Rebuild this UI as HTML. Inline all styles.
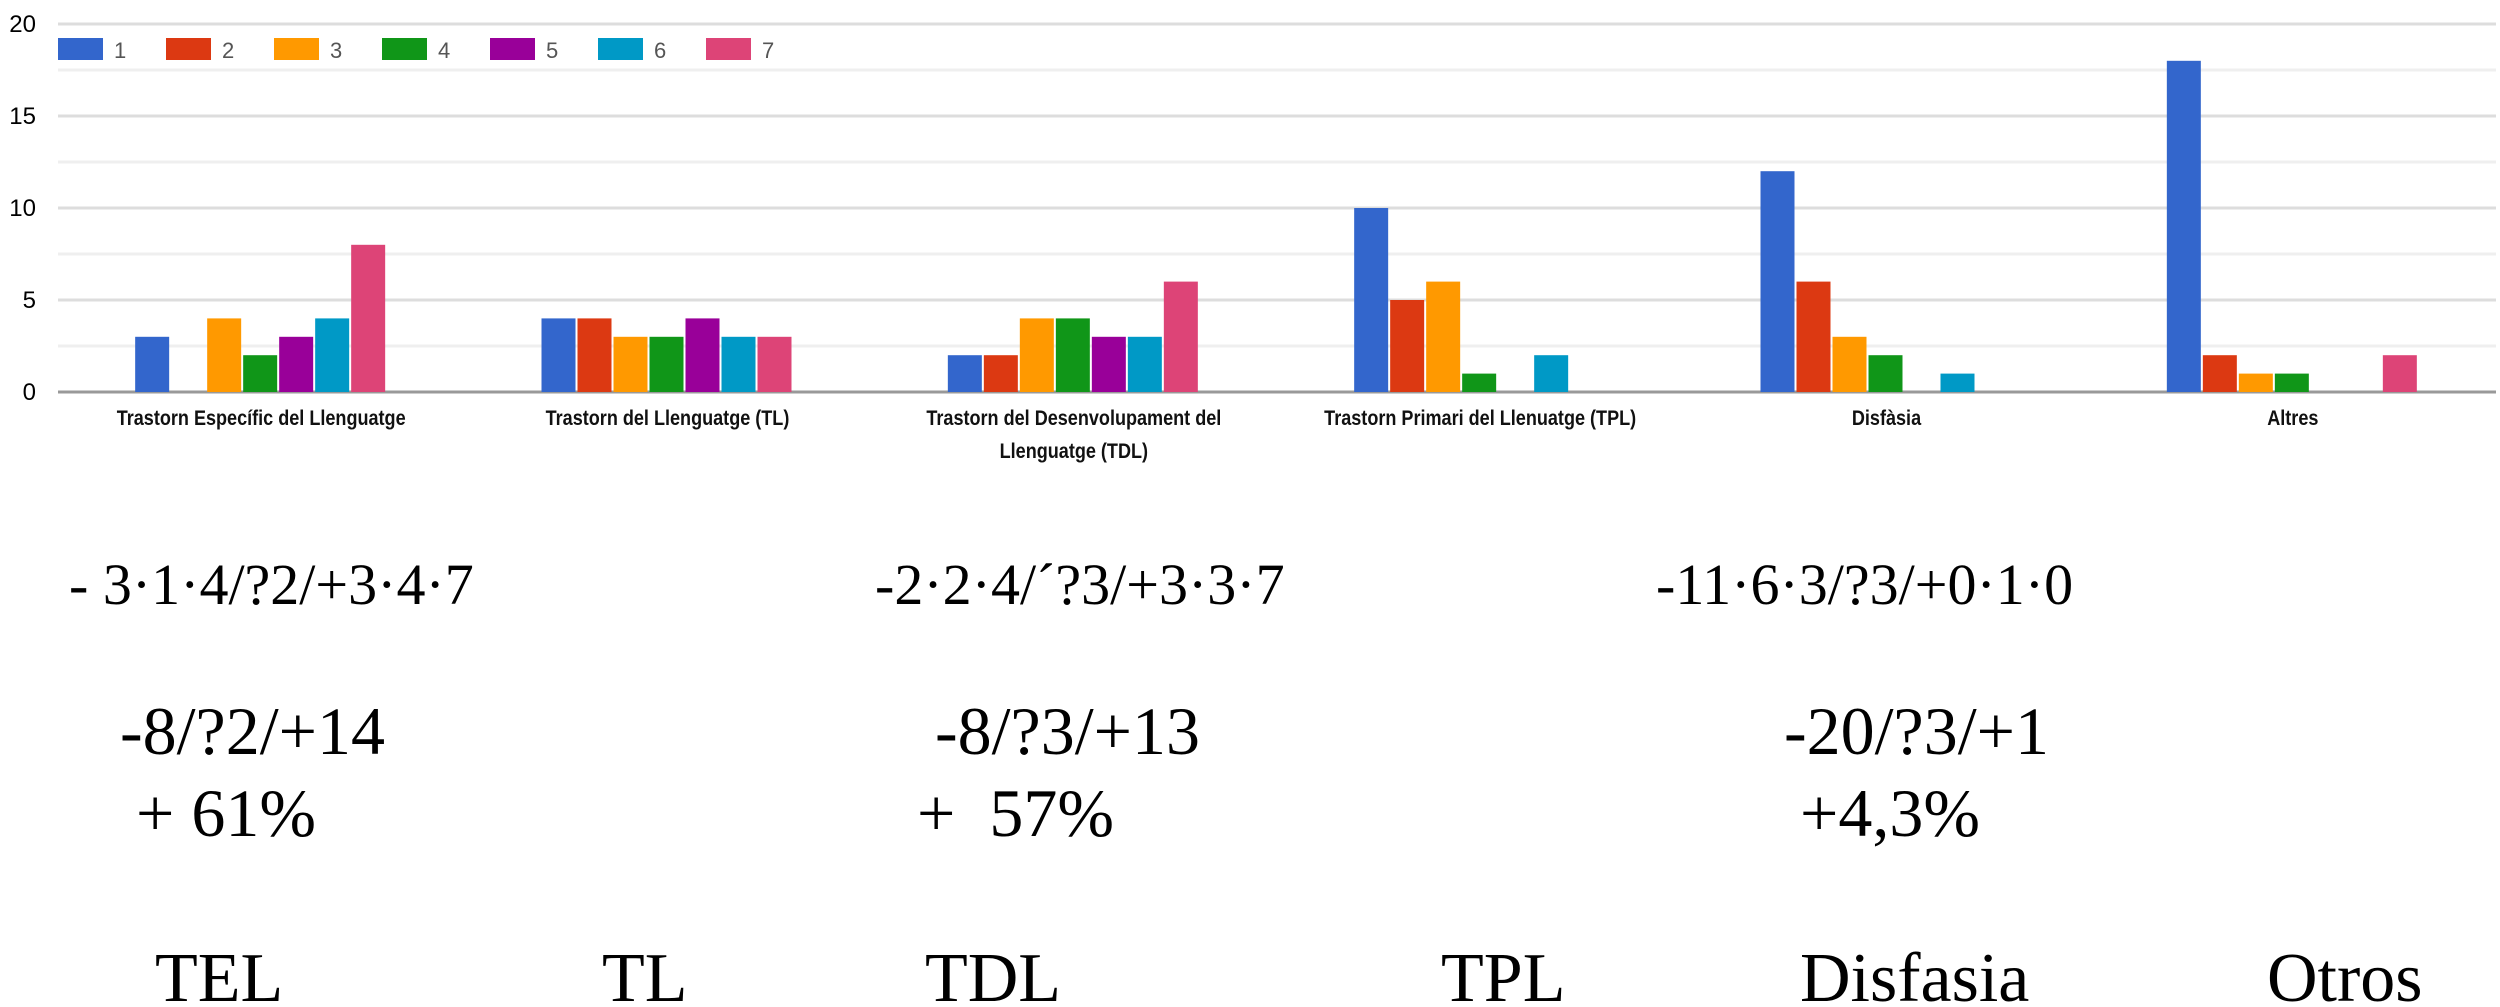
<!DOCTYPE html>
<html><head><meta charset="utf-8"><style>
html,body{margin:0;padding:0;background:#fff;}
svg{display:block;}
</style></head><body>
<svg id="chart" width="2500" height="1007" viewBox="0 0 2500 1007" xmlns="http://www.w3.org/2000/svg">
<g id="grid"></g>
<g id="yticks"></g>
<g id="legend"></g>
<g id="bars"></g>
<g id="xlabels"></g>
<g font-family="'Liberation Serif', serif" fill="#000">
<text x="69" y="604" font-size="58">- 3·1·4/?2/+3·4·7</text>
<text x="875" y="604" font-size="58">-2·2·4/´?3/+3·3·7</text>
<text x="1656" y="604" font-size="58">-11·6·3/?3/+0·1·0</text>
<text x="120" y="754" font-size="68">-8/?2/+14</text>
<text x="935" y="754" font-size="68">-8/?3/+13</text>
<text x="1784" y="754" font-size="68">-20/?3/+1</text>
<text x="136" y="836" font-size="68" xml:space="preserve">+ 61%</text>
<text x="917" y="836" font-size="68" xml:space="preserve">+  57%</text>
<text x="1800" y="836" font-size="68">+4,3%</text>
<text x="155" y="1001" font-size="70">TEL</text>
<text x="602" y="1001" font-size="70">TL</text>
<text x="925" y="1001" font-size="70">TDL</text>
<text x="1441" y="1001" font-size="70">TPL</text>
<text x="1800" y="1001" font-size="70">Disfasia</text>
<text x="2267" y="1001" font-size="70">Otros</text>
</g>
</svg>
<script>
const categories = [["Trastorn Específic del Llenguatge"],["Trastorn del Llenguatge (TL)"],["Trastorn del Desenvolupament del","Llenguatge (TDL)"],["Trastorn Primari del Llenuatge (TPL)"],["Disfàsia"],["Altres"]];
const seriesNames = ["1","2","3","4","5","6","7"];
const s1 = [3,4,2,10,12,18];
const s2 = [0,4,2,5,6,2];
const s3 = [4,3,4,6,3,1];
const s4 = [2,3,4,1,2,1];
const s5 = [3,4,3,0,0,0];
const s6 = [4,3,3,2,1,0];
const s7 = [8,3,6,0,0,2];
const yTicks = [0,5,10,15,20];
const series = [s1,s2,s3,s4,s5,s6,s7];
const colors = ["#3366cc","#dc3912","#ff9900","#109618","#990099","#0099c6","#dd4477"];
const NS = "http://www.w3.org/2000/svg";
const plotL = 58, plotR = 2496, y0 = 392, yTop = 24, yMax = 20;
const slot = (plotR - plotL) / categories.length;
const step = 36, bw = 34;
function yScale(v){ return y0 - (v / yMax) * (y0 - yTop); }
function xCenter(i){ return plotL + slot * (i + 0.5); }
function mk(tag, attrs, parent){ const e = document.createElementNS(NS, tag); for (const k in attrs) e.setAttribute(k, attrs[k]); parent.appendChild(e); return e; }
const grid = document.getElementById('grid');
for (let v = 0; v <= yMax; v += 2.5) {
  const major = v % 5 === 0;
  const l = mk('line', {x1: plotL, x2: plotR, y1: yScale(v), y2: yScale(v), stroke: v === 0 ? '#999' : (major ? '#ddd' : '#efefef'), 'stroke-width': 3}, grid);
  
  
}
const yt = document.getElementById('yticks');
yTicks.forEach(v => {
  const t = mk('text', {x: 36, y: yScale(v) + 8, 'text-anchor': 'end', 'font-family': "'Liberation Sans', sans-serif", 'font-size': 24, fill: '#000'}, yt);
  t.textContent = v;
  
  
});
const lg = document.getElementById('legend');
seriesNames.forEach((n, i) => {
  const g = mk('g', {}, lg);
  
  
  const x = 58 + i * 108;
  mk('rect', {x: x, y: 38, width: 45, height: 22, fill: colors[i]}, g);
  const t = mk('text', {x: x + 56, y: 58, 'font-family': "'Liberation Sans', sans-serif", 'font-size': 22, fill: '#555'}, g);
  t.textContent = n;
});
const bars = document.getElementById('bars');
categories.forEach((c, ci) => {
  const start = xCenter(ci) - (series.length * step) / 2;
  series.forEach((s, si) => {
    const v = s[ci];
    if (!v) return;
    const r = mk('rect', {x: start + si * step, y: yScale(v), width: bw, height: y0 - yScale(v), fill: colors[si]}, bars);
    
    
  });
});
const xl = document.getElementById('xlabels');
categories.forEach((c, ci) => {
  c.forEach((line, li) => {
    const t = mk('text', {x: xCenter(ci), y: 425 + li * 33, 'text-anchor': 'middle', 'font-family': "'Liberation Sans', sans-serif", 'font-size': 21, fill: '#111', 'font-weight': 'bold', transform: 'translate(' + xCenter(ci) + ',0) scale(0.86,1) translate(' + (-xCenter(ci)) + ',0)'}, xl);
    t.textContent = line;
    
    
  });
});
</script>
</body></html>
